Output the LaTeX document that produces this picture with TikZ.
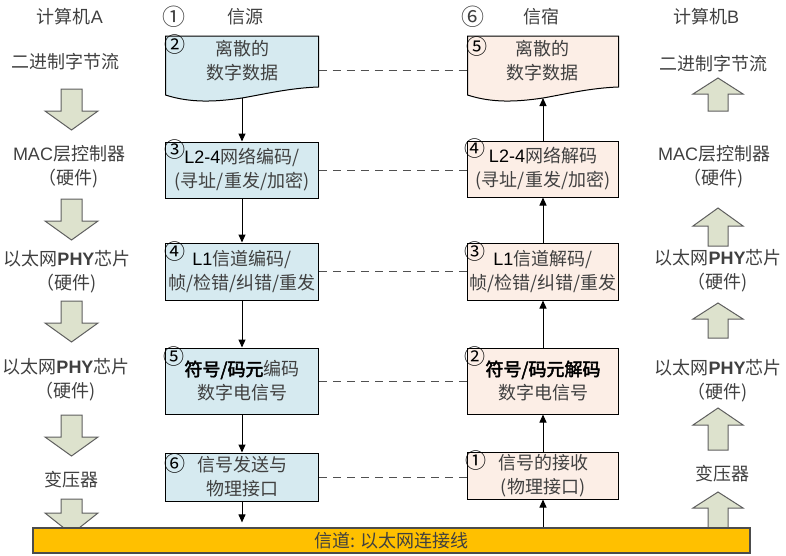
\documentclass[tikz,border=0pt]{standalone}
\usepackage{fontspec}
\setmainfont{Noto Sans CJK SC}[AutoFakeBold=2.5]
\newfontfamily\lat{Liberation Sans}
\usetikzlibrary{arrows.meta}
\definecolor{bluefill}{RGB}{214,234,240}
\definecolor{peachfill}{RGB}{252,238,230}
\definecolor{arrfill}{RGB}{221,226,205}
\definecolor{arrdraw}{RGB}{95,95,95}
\definecolor{barfill}{RGB}{255,192,0}
\definecolor{txt}{RGB}{64,64,64}
\definecolor{dashc}{RGB}{80,80,80}
\tikzset{
  every node/.style={font=\fontsize{18}{24}\selectfont, text=txt, inner sep=0pt},
  lbox/.style={draw=black, fill=bluefill, line width=1pt, align=center, minimum width=153pt},
  rbox/.style={draw=black, fill=peachfill, line width=1pt, align=center, minimum width=151pt},
  lbl/.style={align=center},
  num/.style={font=\fontsize{21}{21}\selectfont, text=black},
  hnum/.style={font=\fontsize{23}{23}\selectfont, text=txt},
  flow/.style={-{Triangle[length=8pt,width=7pt]}, line width=1pt, draw=black},
  dashlink/.style={dash pattern=on 8pt off 6pt, draw=dashc, line width=1pt},
  blockarrow/.style={fill=arrfill, draw=arrdraw, line width=1pt},
  barbox/.style={draw=black!70, fill=barfill, line width=1.2pt, minimum width=717pt, minimum height=25pt}
}
\begin{document}
\begin{tikzpicture}[x=1pt,y=-1pt]
\useasboundingbox (0,0) rectangle (786,555);

% block arrows, left (down)
\foreach \a/\b/\c in {89/111/130, 199/221/240, 301/323/342, 415/437/456, 499/513/534}
  \draw[blockarrow] (61,\a) -- (82,\a) -- (82,\b) -- (98,\b) -- (71.5,\c) -- (45,\b) -- (61,\b) -- cycle;
% block arrows, right (up)
\foreach \a/\b/\c in {78/94/111, 208/226/246, 303/319/338, 408/425/450, 492/508/532}
  \draw[blockarrow] (718,\a) -- (743,\b) -- (728,\b) -- (728,\c) -- (708,\c) -- (708,\b) -- (693,\b) -- cycle;

% channel bar
\node[barbox] (bar) at (391.5,540.5) {信道: 以太网连接线};

% headers
\node (hA) at (70,17) {计算机{\lat A}};
\node[hnum] (h1) at (174,17) {①};
\node (hsrc) at (245,17) {信源};
\node[hnum] (h6) at (473,17) {⑥};
\node (hdst) at (541,17) {信宿};
\node (hB) at (706,17) {计算机{\lat B}};

% left side labels
\node (a1) at (65,62) {二进制字节流};
\node[lbl] (a2) at (69,167) {{\lat MAC}层控制器\\（硬件)};
\node[lbl] (a3) at (67,271.5) {以太网{\lat\bfseries PHY}芯片\\（硬件)};
\node[lbl] (a4) at (66,380) {以太网{\lat\bfseries PHY}芯片\\（硬件)};
\node (a5) at (71,480) {变压器};

% right side labels
\node (b1) at (713,64) {二进制字节流};
\node[lbl] (b2) at (714,167) {{\lat MAC}层控制器\\（硬件)};
\node[lbl] (b3) at (718,270.5) {以太网{\lat\bfseries PHY}芯片\\（硬件)};
\node[lbl] (b4) at (718,381) {以太网{\lat\bfseries PHY}芯片\\（硬件)};
\node (b5) at (722,474) {变压器};

% left documents / boxes
\draw[fill=bluefill, draw=black, line width=1pt] (165.5,36) -- (318.5,36) -- (318.5,87)
  .. controls (290,88) and (265,94) .. (242,98)
  .. controls (215,102) and (190,103) .. (165.5,95) -- cycle;
\coordinate (L1b) at (242,98);
\coordinate (L1e) at (318.5,70);
\node[lbl] (L1t) at (242,61) {离散的\\数字数据};
\node[lbox, minimum height=56pt] (L2) at (242,170) {{\lat\color{black}L2-4}网络编码/\\(寻址/重发/加密)};
\node[lbox, minimum height=57pt] (L3) at (242,271.5) {{\lat\color{black}L1}信道编码/\\帧/检错/纠错/重发};
\node[lbox, minimum height=66pt] (L4) at (242,381) {{\bfseries\color{black}符号/码元}编码\\数字电信号};
\node[lbox, minimum height=48pt] (L5) at (242,477) {信号发送与\\物理接口};

\node[num] (nL1) at (175,45) {②};
\node[num] (nL2) at (175,150) {③};
\node[num] (nL3) at (175,252) {④};
\node[num] (nL4) at (174,357) {⑤};
\node[num] (nL5) at (175,464) {⑥};

% right documents / boxes
\draw[fill=peachfill, draw=black, line width=1pt] (467.5,36) -- (618.5,36) -- (618.5,87)
  .. controls (590,88) and (566,94) .. (543,98)
  .. controls (516,102) and (492,103) .. (467.5,95) -- cycle;
\coordinate (R1b) at (543,98);
\coordinate (R1w) at (467.5,70);
\node[lbl] (R1t) at (542,61) {离散的\\数字数据};
\node[rbox, minimum height=56pt] (R2) at (543,169) {{\lat\color{black}L2-4}网络解码\\(寻址/重发/加密)};
\node[rbox, minimum height=57pt] (R3) at (543,271.5) {{\lat\color{black}L1}信道解码/\\帧/检错/纠错/重发};
\node[rbox, minimum height=66pt] (R4) at (543,381) {{\bfseries\color{black}符号/码元解码}\\数字电信号};
\node[rbox, minimum height=47pt] (R5) at (543,475.5) {信号的接收\\(物理接口)};

\node[num] (nR1) at (477,47) {⑤};
\node[num] (nR2) at (475,149) {④};
\node[num] (nR3) at (475,252) {③};
\node[num] (nR4) at (475,357) {②};
\node[num] (nR5) at (476,461) {①};

% flow arrows
\draw[flow] (L1b) -- (L2.north);
\draw[flow] (L2) -- (L3);
\draw[flow] (L3) -- (L4);
\draw[flow] (L4) -- (L5);
\draw[flow, shorten >=5pt] (L5.south) -- (L5.south |- bar.north);
\draw[flow] (R5.south |- bar.north) -- (R5.south);
\draw[flow] (R5) -- (R4);
\draw[flow] (R4) -- (R3);
\draw[flow] (R3) -- (R2);
\draw[flow] (R2.north) -- (R1b);

% dashed correspondences
\draw[dashlink] (L1e) -- (R1w);
\draw[dashlink] (L2.east) -- (L2.east -| R2.west);
\draw[dashlink] (L3.east) -- (L3.east -| R3.west);
\draw[dashlink] (L4.east) -- (L4.east -| R4.west);
\draw[dashlink] (L5.east) -- (L5.east -| R5.west);
\end{tikzpicture}
\end{document}
